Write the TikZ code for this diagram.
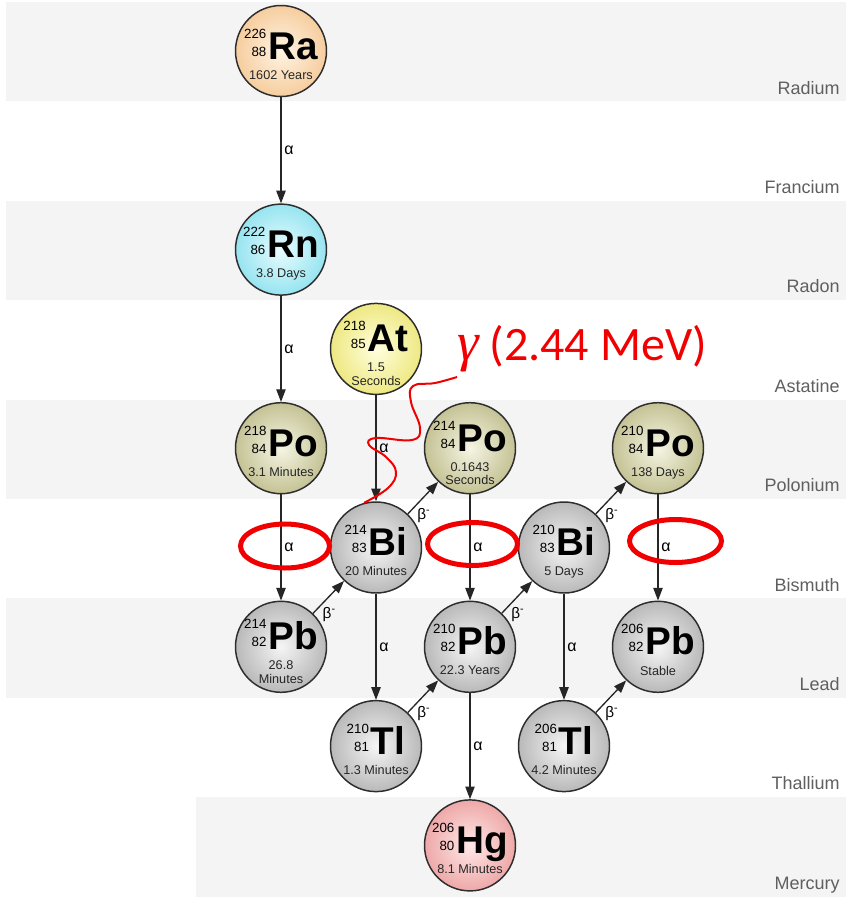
\documentclass[tikz,border=0pt]{standalone}
\usepackage{fontspec}
\setmainfont{Liberation Sans}
\newfontfamily\talkfont{Carlito}
\newfontfamily\greekfont{Liberation Serif}
\usetikzlibrary{arrows.meta}

\definecolor{bandgray}{RGB}{244,244,244}
\definecolor{rowtext}{RGB}{95,95,95}
\definecolor{rimgray}{RGB}{45,45,45}
\definecolor{markred}{RGB}{240,0,0}
\definecolor{raout}{RGB}{246,205,158}\definecolor{rain}{RGB}{255,244,228}
\definecolor{rnout}{RGB}{150,228,240}\definecolor{rnin}{RGB}{232,252,255}
\definecolor{atout}{RGB}{238,232,130}\definecolor{atin}{RGB}{255,255,222}
\definecolor{poout}{RGB}{196,194,148}\definecolor{poin}{RGB}{245,245,228}
\definecolor{grout}{RGB}{185,185,185}\definecolor{grin}{RGB}{245,245,245}
\definecolor{hgout}{RGB}{238,168,168}\definecolor{hgin}{RGB}{255,232,232}

\tikzset{
  nuc/.style={circle,draw=rimgray,line width=1.1pt,minimum size=68.25pt,inner sep=0pt},
  fillRa/.style={inner color=rain,outer color=raout},
  fillRn/.style={inner color=rnin,outer color=rnout},
  fillAt/.style={inner color=atin,outer color=atout},
  fillPo/.style={inner color=poin,outer color=poout},
  fillGr/.style={inner color=grin,outer color=grout},
  fillHg/.style={inner color=hgin,outer color=hgout},
  nucid/.style={anchor=base,inner sep=0pt},
  halflife/.style={anchor=north,inner sep=0pt,align=center,text=black!85,
    font=\fontsize{9.5}{10}\selectfont},
  decay/.style={draw=black!85,line width=1pt,-{Triangle[length=9.5pt,width=7pt]}},
  alab/.style={midway,right,inner sep=2pt,font=\fontsize{12}{12}\selectfont},
  blab/.style={pos=.25,below right,inner sep=1pt,font=\fontsize{11.5}{12}\selectfont},
  rowlab/.style={anchor=base east,inner sep=0pt,text=rowtext,font=\fontsize{13.5}{14}\selectfont},
  redring/.style={draw=markred,line width=3.75pt},
  gammaray/.style={draw=markred,line width=1.5pt}
}

% mass number, charge number, symbol
\newcommand\nucl[3]{\raisebox{2.25pt}{\fontsize{10}{13.5}\selectfont
  \begin{tabular}[b]{@{}r@{}}#1\\#2\end{tabular}}\hspace{1.5pt}{\fontsize{29}{29}\selectfont\bfseries #3}}
% [baseline offset] name, position, fill, A, Z, symbol, half-life
\newcommand\isotope[8][8]{%
  \node[nuc,#4] (#2) at (#3) {};
  \node[nucid] (#2-id) at ([shift={(0,#1)}]#2) {\nucl{#5}{#6}{#7}};
  \node[halflife] (#2-t) at ([shift={(0,#1+11)}]#2) {#8};
}

\begin{document}
\begin{tikzpicture}[x=0.75pt,y=-0.75pt]
\useasboundingbox (0,0) rectangle (846,897);

% element rows
\foreach \k in {0,2,4,6}
  \fill[bandgray] (6,{2+99.4*\k}) rectangle (846,{101.4+99.4*\k});
\fill[bandgray] (196,797.2) rectangle (846,897);
\foreach \el [count=\k from 0] in {Radium,Francium,Radon,Astatine,Polonium,Bismuth,Lead,Thallium,Mercury}
  \node[rowlab] (row\k) at (840,{94+99.4*\k}) {\el};

% nuclides
\isotope{ra226}{281,51}{fillRa}{226}{88}{Ra}{1602 Years}
\isotope{rn222}{281,249.6}{fillRn}{222}{86}{Rn}{3.8 Days}
\isotope[3]{at218}{376,348.9}{fillAt}{218}{85}{At}{1.5\\Seconds}
\isotope{po218}{281,448.2}{fillPo}{218}{84}{Po}{3.1 Minutes}
\isotope[3]{po214}{470,448.2}{fillPo}{214}{84}{Po}{0.1643\\Seconds}
\isotope{po210}{658,448.2}{fillPo}{210}{84}{Po}{138 Days}
\isotope{bi214}{376,547.5}{fillGr}{214}{83}{Bi}{20 Minutes}
\isotope{bi210}{564,547.5}{fillGr}{210}{83}{Bi}{5 Days}
\isotope[3]{pb214}{281,646.8}{fillGr}{214}{82}{Pb}{26.8\\Minutes}
\isotope{pb210}{470,646.8}{fillGr}{210}{82}{Pb}{22.3 Years}
\isotope{pb206}{658,646.8}{fillGr}{206}{82}{Pb}{Stable}
\isotope{tl210}{376,746.1}{fillGr}{210}{81}{Tl}{1.3 Minutes}
\isotope{tl206}{564,746.1}{fillGr}{206}{81}{Tl}{4.2 Minutes}
\isotope{hg206}{470,845.4}{fillHg}{206}{80}{Hg}{8.1 Minutes}

% alpha decays
\foreach \a/\b in {ra226/rn222,rn222/po218,po218/pb214,at218/bi214,bi214/tl210,
    po214/pb210,pb210/hg206,bi210/tl206,po210/pb206}
  \draw[decay] (\a) -- node[alab] (\a-alpha) {α} (\b);
% beta decays
\foreach \a/\b in {pb214/bi214,bi214/po214,tl210/pb210,pb210/bi210,bi210/po210,tl206/pb206}
  \draw[decay] (\a) -- node[blab] (\a-beta) {β\textsuperscript{-}} (\b);

% marks
\draw[redring] (285,546) ellipse [x radius=44.5,y radius=22];
\draw[redring] (472.5,544) ellipse [x radius=45,y radius=21.5];
\draw[redring] (675.5,541) ellipse [x radius=46,y radius=21.5];

\node[anchor=base west,inner sep=0pt,text=markred,font=\talkfont\fontsize{36}{36}\selectfont]
  (gam) at (457,360) {{\greekfont\itshape\fontsize{41}{41}\selectfont γ} (2.44 MeV)};
\coordinate (gam-end) at (457,377);
\draw[gammaray] plot[smooth,tension=.7] coordinates {(bi214.105) (388,488) (396,472)
  (386,457) (369,445) (376,438) (412,440) (420,428) (411,402) (413,386) (435,383)
  (gam-end)};
\end{tikzpicture}
\end{document}
